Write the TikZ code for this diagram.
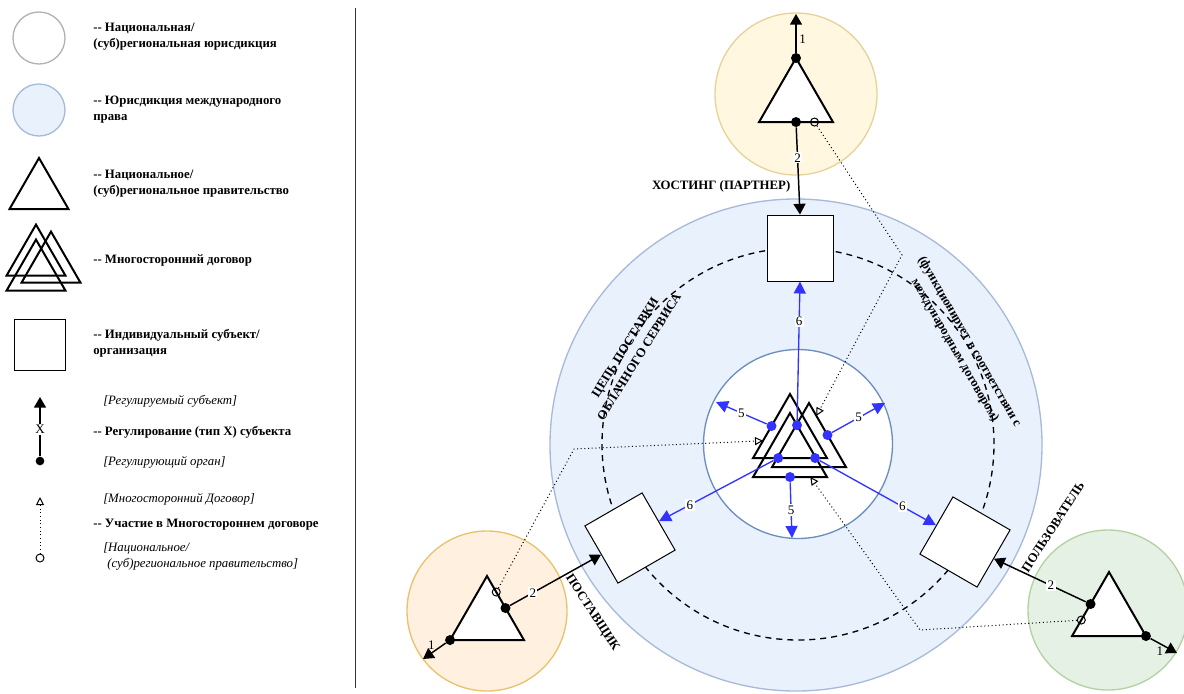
\documentclass[tikz,border=0pt]{standalone}
\usepackage{fontspec}
\setmainfont{Liberation Serif}
\usetikzlibrary{shapes.geometric,arrows.meta,calc}

\definecolor{IntFill}{RGB}{233,241,253}
\definecolor{IntLine}{RGB}{167,187,217}
\definecolor{InnerLine}{RGB}{108,142,191}
\definecolor{HostFill}{RGB}{255,247,224}
\definecolor{HostLine}{RGB}{230,211,154}
\definecolor{ProvFill}{RGB}{255,240,224}
\definecolor{ProvLine}{RGB}{232,195,110}
\definecolor{UserFill}{RGB}{230,241,229}
\definecolor{UserLine}{RGB}{180,209,163}
\definecolor{RegBlue}{RGB}{51,51,255}

\tikzset{
	juris/.style={circle,draw,line width=1pt,inner sep=0pt,minimum size=#1},
	gov/.style={regular polygon,regular polygon sides=3,draw,line width=1.5pt,fill=white,
		inner sep=0pt,outer sep=0pt,minimum size=64pt},
	treaty/.style={gov,fill=none},
	entity/.style={rectangle,draw,line width=0.75pt,fill=white,inner sep=0pt,minimum size=49.5pt},
	regdot/.style={circle,fill=black,inner sep=0pt,minimum size=7.5pt},
	bluedot/.style={regdot,fill=RegBlue},
	memdot/.style={circle,draw,line width=0.75pt,inner sep=0pt,minimum size=6pt},
	reg/.style={line width=1.1pt,-{Triangle[length=8pt,width=9pt]}},
	bluereg/.style={line width=1pt,color=RegBlue,-{Triangle[length=9pt,width=9pt]}},
	member/.style={dotted,line width=0.75pt,-{Triangle[open,length=6pt,width=6pt]}},
	num/.style={font=\fontsize{9.8}{10}\selectfont,text=black,fill=white,inner sep=1pt},
	caption/.style={font=\bfseries\fontsize{9.6}{12.5}\selectfont,align=center},
	legtext/.style={font=\bfseries\fontsize{9.6}{12}\selectfont,align=left,anchor=west,inner sep=0pt},
	legnote/.style={font=\itshape\fontsize{9.6}{12}\selectfont,align=left,anchor=west,inner sep=0pt},
}

\begin{document}
\begin{tikzpicture}[x=0.75pt,y=-0.75pt]
	\useasboundingbox (0,0) rectangle (1184,693);

	% legend
	\coordinate (divTop) at (355,8);
	\coordinate (divBot) at (355,688);
	\draw[line width=0.75pt,black!80] (divTop) -- (divBot);

	\node[juris=39pt,draw=black!30] (lgNat) at (39,38) {};
	\node[juris=39pt,draw=IntLine,fill=IntFill] (lgInt) at (39,110) {};
	\node[gov,minimum size=51pt] (lgGov) at (39,192) {};
	\foreach \X/\Y [count=\Z] in {36/258.6, 51/265.6, 36/273.6}
		{\node[treaty,minimum size=51pt] (lgTrt\Z) at (\X,\Y) {};}
	\node[entity,minimum size=38.25pt] (lgEnt) at (39.5,345) {};

	\node[regdot,minimum size=6.5pt] (lgRegFrom) at (40,461) {};
	\coordinate (lgRegTo) at (40,397);
	\draw[reg] (lgRegFrom) -- node[num,pos=0.45]{X} (lgRegTo);
	\node[memdot] (lgMemFrom) at (40,558) {};
	\coordinate (lgMemTo) at (40,497);
	\draw[member] (lgMemFrom) -- (lgMemTo);

	\node[legtext] (lgNatTxt) at (93,37) {-{}- Национальная/\\(суб)региональная юрисдикция};
	\node[legtext] (lgIntTxt) at (93,110) {-{}- Юрисдикция международного\\права};
	\node[legtext] (lgGovTxt) at (93,184) {-{}- Национальное/\\(суб)региональное правительство};
	\node[legtext] (lgTrtTxt) at (93,260) {-{}- Многосторонний договор};
	\node[legtext] (lgEntTxt) at (93,343) {-{}- Индивидуальный субъект/\\организация};
	\node[legnote] (lgRegToTxt) at (103,401) {[Регулируемый субъект]};
	\node[legtext] (lgRegTxt) at (93,432) {-{}- Регулирование (тип X) субъекта};
	\node[legnote] (lgRegFromTxt) at (103,462) {[Регулирующий орган]};
	\node[legnote] (lgMemToTxt) at (103,499) {[Многосторонний Договор]};
	\node[legtext] (lgMemTxt) at (93,525) {-{}- Участие в Многостороннем договоре};
	\node[legnote] (lgMemFromTxt) at (103,556) {[Национальное/\\\hspace{3pt}(суб)региональное правительство]};

	% jurisdictions
	\node[juris=121.5pt,draw=HostLine,fill=HostFill] (jHost) at (796,94) {};
	\node[juris=120pt,draw=ProvLine,fill=ProvFill] (jProv) at (487,611) {};
	\node[juris=120pt,draw=UserLine,fill=UserFill] (jUser) at (1108,610) {};
	\node[juris=369pt,draw=IntLine,fill=IntFill] (jInt) at (796,445) {};
	\node[circle,draw,line width=1pt,dash pattern=on 4.5pt off 3.75pt,inner sep=0pt,
		minimum size=294pt] (chain) at (798,444) {};
	\node[juris=141.75pt,draw=InnerLine,fill=white] (jTreaty) at (798,444) {};

	% captions
	\node[caption,anchor=east] (capHost) at (795,186) {ХОСТИНГ (ПАРТНЕР)};
	\node[caption,rotate=58] (capChain) at (632,352) {ЦЕПЬ ПОСТАВКИ\\ОБЛАЧНОГО СЕРВИСА};
	\node[caption,rotate=-60] (capIntl) at (962,346) {(функционирует в соответствии с\\международным договором)};
	\node[caption,rotate=-57] (capProv) at (592,613) {ПОСТАВЩИК};
	\node[caption,rotate=57] (capUser) at (1053,527) {ПОЛЬЗОВАТЕЛЬ};

	% entities
	\node[entity] (sqHost) at (800,248) {};
	\node[entity,rotate=30] (sqProv) at (630,538) {};
	\node[entity,rotate=-30] (sqUser) at (965,542) {};

	% governments and treaty
	\node[gov] (tHost) at (796,100.7) {};
	\node[gov] (tProv) at (487,618.7) {};
	\node[gov] (tUser) at (1109,614.7) {};
	\node[treaty] (tA) at (790,436.7) {};
	\node[treaty] (tB) at (809,445.7) {};
	\node[treaty] (tC) at (790,455.7) {};

	% regulators
	\node[regdot] (dHost1) at (tHost.corner 1) {};
	\node[regdot] (dHost2) at (tHost.side 2) {};
	\node[memdot] (mHost) at ($(tHost.side 2)!0.5!(tHost.corner 3)$) {};
	\node[regdot] (dProv1) at (tProv.corner 2) {};
	\node[regdot] (dProv2) at (tProv.side 3) {};
	\node[memdot] (mProv) at ($(tProv.corner 1)!0.5!(tProv.side 3)$) {};
	\node[regdot] (dUser1) at (tUser.corner 3) {};
	\node[regdot] (dUser2) at (tUser.side 1) {};
	\node[memdot] (mUser) at ($(tUser.side 1)!0.5!(tUser.corner 2)$) {};

	\node[bluedot] (bTop) at ($(tC.corner 1)!0.19!(tC.corner 3)$) {};
	\node[bluedot] (bNW) at (tA.side 1) {};
	\node[bluedot] (bNE) at (tB.side 3) {};
	\node[bluedot] (bSW) at ($(tA.corner 2)!0.34!(tA.corner 3)$) {};
	\node[bluedot] (bSE) at ($(tA.corner 2)!0.84!(tA.corner 3)$) {};
	\node[bluedot] (bS) at (tC.side 2) {};

	% regulation
	\coordinate (oHost) at (796,14);
	\coordinate (oProv) at (423,659);
	\coordinate (oUser) at (1177,653);
	\draw[reg] (dHost1) -- node[num,fill=none,pos=0.36,right=1pt]{1} (oHost);
	\draw[reg] (dHost2) -- node[num,pos=0.35]{2} (sqHost.north);
	\draw[reg] (dProv1) -- node[num,fill=none,pos=0.45,above left=-1pt]{1} (oProv);
	\draw[reg] (dProv2) -- node[num,pos=0.25]{2} (sqProv.west);
	\draw[reg] (dUser1) -- node[num,fill=none,pos=0.35,below=1pt]{1} (oUser);
	\draw[reg] (dUser2) -- node[num,pos=0.38]{2} (sqUser.east);

	\coordinate (oNW) at (716,402);
	\coordinate (oNE) at (885,403);
	\coordinate (oS) at (792,538);
	\foreach \from/\to/\lab/\p in {bTop/sqHost.south/6/0.71, bNW/oNW/5/0.5, bNE/oNE/5/0.5,
		bS/oS/5/0.5, bSW/sqProv.east/6/0.73, bSE/sqUser.west/6/0.71}
		{\draw[bluereg] (\from) -- node[num,pos=\p]{\lab} (\to);}

	% participation
	\coordinate (kHost) at (902,255);
	\coordinate (kProv) at (574,449);
	\coordinate (kUser) at (920,630);
	\coordinate (pHost) at ($(tB.corner 1)!0.2!(tB.corner 3)$);
	\coordinate (pProv) at ($(tA.corner 1)!0.73!(tA.corner 2)$);
	\coordinate (pUser) at ($(tC.side 2)!0.55!(tC.corner 3)$);
	\draw[member] (mHost) -- (kHost) -- (pHost);
	\draw[member] (mProv) -- (kProv) -- (pProv);
	\draw[member] (mUser) -- (kUser) -- (pUser);
\end{tikzpicture}
\end{document}
